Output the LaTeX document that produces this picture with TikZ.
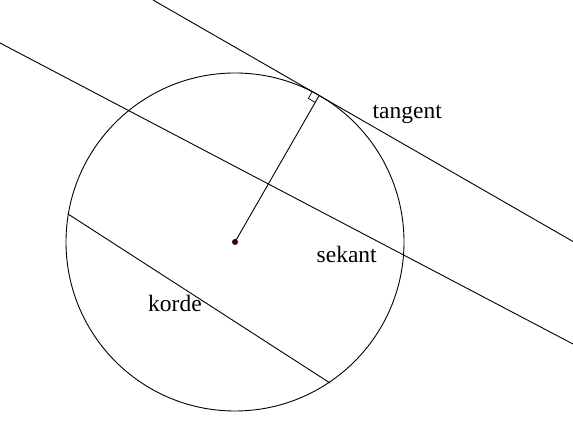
\documentclass[tikz,border=0pt]{standalone}
\usepackage{fontspec}
\setmainfont{Liberation Serif}
\definecolor{dotcol}{RGB}{64,0,0}
\begin{document}
\begin{tikzpicture}[x=1pt,y=-1pt,
  geo/.style={line width=0.9pt,black},
  lbl/.style={inner sep=0pt,anchor=base west,font=\fontsize{23.5}{28}\selectfont}]
\useasboundingbox (0,0) rectangle (573,427);
\coordinate (C) at (235,242);
\coordinate (T) at (319.2,95.5);
\coordinate (ta) at (153,0);
\coordinate (tb) at (573,241.5);
\coordinate (sa) at (0,43);
\coordinate (sb) at (573,344);
\coordinate (ka) at (68,214);
\coordinate (kb) at (330,383);
\draw[geo] (C) circle[radius=169];
\draw[geo] (ta) -- (tb);
\draw[geo] (sa) -- (sb);
\draw[geo] (ka) -- (kb);
\draw[geo] (C) -- (T);
% right angle mark
\coordinate (r1) at (312.3,91.5);
\coordinate (r2) at (308.3,98.4);
\coordinate (r3) at (315.2,102.4);
\draw[line width=0.7pt] (r1) -- (r2) -- (r3);
\fill[dotcol] (C) circle[radius=3];
\node[lbl] (tl) at (372.5,119) {tangent};
\node[lbl] (sl) at (316.5,263) {sekant};
\node[lbl] (kl) at (148,311.5) {korde};
\end{tikzpicture}
\end{document}
